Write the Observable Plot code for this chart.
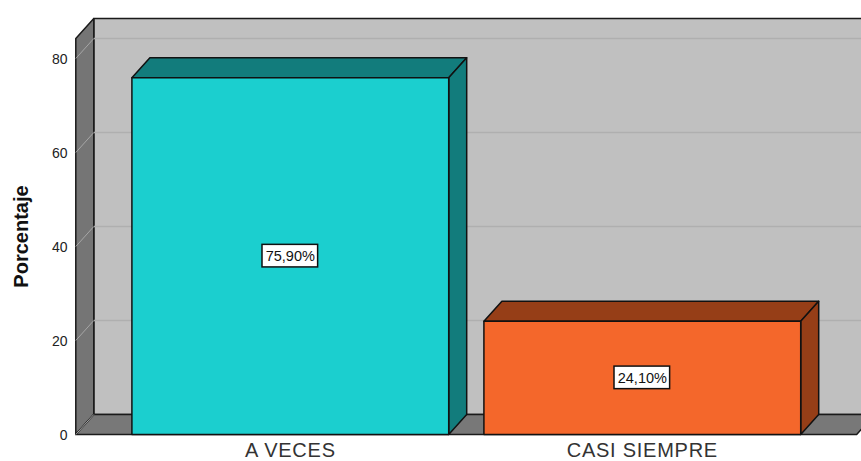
<!DOCTYPE html>
<html>
<head>
<meta charset="utf-8">
<script src="https://cdn.jsdelivr.net/npm/d3@7"></script>
<script src="https://cdn.jsdelivr.net/npm/@observablehq/plot@0.6"></script>
<style>html,body{margin:0;padding:0;background:#fff}svg{display:block}
g[aria-label="x-axis tick label"]{letter-spacing:0.75px}</style>
</head>
<body>
<div id="chart"></div>
<script>
const categories = ["A VECES", "CASI SIEMPRE"];
const values = [75.9, 24.1];
const valueLabels = ["75,90%", "24,10%"];
const yTicks = [0, 20, 40, 60, 80];
const frontColors = ["#1bcfcf", "#f4672b"];
const sideColors = ["#127c7c", "#963e17"];

// Extent and depth of the 3D box, in data units
const halfBar = 0.45, depthX = 0.0511, depthY = 4.255;
const xLeft = -0.6094, xRight = 1.609, yTop = 84.26;

const face = (pts, fill, stroke = "#111", strokeWidth = 1.5) =>
  Plot.line([...pts, pts[0]].map(([x, y]) => ({x, y})),
    {x: "x", y: "y", fill, stroke, strokeWidth, strokeLinejoin: "round", curve: "linear"});

const marks = [];
// walls and floor
marks.push(face([[xLeft + depthX, depthY], [xRight + depthX, depthY], [xRight + depthX, yTop + depthY], [xLeft + depthX, yTop + depthY]], "#c0c0c0", "#1a1a1a", 1.5));
marks.push(face([[xLeft, 0], [xLeft + depthX, depthY], [xLeft + depthX, yTop + depthY], [xLeft, yTop]], "#757575", "#1a1a1a", 1.5));
marks.push(face([[xLeft, 0], [xRight, 0], [xRight + depthX, depthY], [xLeft + depthX, depthY]], "#787878", "#1a1a1a", 1.5));
// grid
const gridTicks = yTicks;
marks.push(Plot.link(gridTicks.filter(d => d > 0), {
  x1: () => xLeft + depthX, x2: () => xRight + depthX,
  y1: d => d + depthY, y2: d => d + depthY, stroke: "#afafaf", strokeWidth: 1.5
}));
marks.push(Plot.link(gridTicks, {
  x1: () => xLeft, x2: () => xLeft + depthX,
  y1: d => d, y2: d => d + depthY, stroke: "#a6a6a6", strokeWidth: 1
}));
// bars
values.forEach((v, i) => {
  const a = i - halfBar, b = i + halfBar;
  marks.push(face([[a, v], [b, v], [b + depthX, v + depthY], [a + depthX, v + depthY]], sideColors[i]));
  marks.push(face([[b, 0], [b + depthX, depthY], [b + depthX, v + depthY], [b, v]], sideColors[i]));
  marks.push(face([[a, 0], [b, 0], [b, v], [a, v]], frontColors[i]));
});
// value labels
const idx = values.map((_, i) => i);
marks.push(Plot.rect(idx, {
  x1: i => i - 0.079, x2: i => i + 0.079,
  y1: i => values[i] / 2 - 2.4, y2: i => values[i] / 2 + 2.4,
  fill: "white", stroke: "#111", strokeWidth: 1.5
}));
marks.push(Plot.text(idx, {
  x: i => i, y: i => values[i] / 2, text: i => valueLabels[i],
  fontSize: 14.5, fill: "#111", fontFamily: "Liberation Sans"
}));
// axes
marks.push(Plot.axisY({
  ticks: yTicks, tickSize: 0, tickPadding: 9, label: null, fontSize: 14, dy: 1,
  fill: "#222", fontFamily: "Liberation Sans"
}));
marks.push(Plot.axisX({
  ticks: [0, 1], tickFormat: i => categories[i], tickSize: 0, tickPadding: 8, label: null,
  fontSize: 20, fill: "#333", fontFamily: "Liberation Sans"
}));
marks.push(Plot.text(["Porcentaje"], {
  frameAnchor: "left", textAnchor: "middle", rotate: -90, dx: -55, dy: 10, fontSize: 20, fontWeight: "bold",
  fill: "#111", fontFamily: "Liberation Sans"
}));

const chart = Plot.plot({
  width: 861, height: 461,
  marginLeft: 76, marginRight: 0, marginTop: 18, marginBottom: 27,
  style: {background: "white", overflow: "hidden"},
  x: {domain: [xLeft, 1.6207], range: [75.3, 860.3]},
  y: {domain: [0, 416 / 4.7], range: [434, 18]},
  marks
});
document.getElementById("chart").append(chart);
</script>
</body>
</html>
